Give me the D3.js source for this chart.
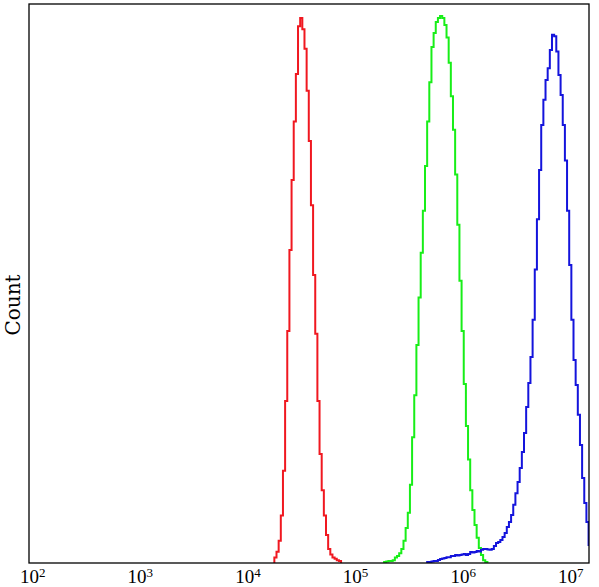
<!DOCTYPE html>
<html>
<head>
<meta charset="utf-8">
<script src="https://cdn.jsdelivr.net/npm/d3@7"></script>
<style>
  body { margin: 0; background: #fff; }
</style>
</head>
<body>
<div id="chart-container"></div>
<script>
// Axe des x : décades affichées sous la forme 10^n
const tickExponents = [2, 3, 4, 5, 6, 7];
const xMaxExponent = 7.204;
const yMaxCount = 200;

// Largeur d'un canal de l'histogramme (en log10)
const binWidth = 0.02;

// Histogramme rouge
const redStart = 4.28;
const redCounts = [2, 4, 8, 17, 33, 58, 83, 112, 137, 158, 175, 192, 195, 191, 184, 169, 151, 128, 103, 82,
    58, 39, 26, 17, 10, 5, 3, 2, 1.5, 1, 0.7];

// Histogramme vert
const greenStart = 5.30;
const greenCounts = [0.4, 0.5, 0.7, 0.7, 1.0, 2, 2.5, 3.5, 5, 8, 12.5, 18, 28, 45, 60, 78, 95, 111, 126, 142,
    158, 172, 184.6, 189.6, 193.6, 195, 195.7, 195, 192.5, 188, 179, 167, 155, 139, 121, 101, 83, 64, 49, 37,
    26, 19, 13.6, 9, 5.4, 2.9, 1, 0.4];

// Histogramme bleu
const blueStart = 5.70;
const blueCounts = [0.4, 0.4, 0.5, 0.7, 0.7, 1.1, 1.4, 1.6, 1.8, 2.1, 2.1, 2.5, 2.5, 2.9, 2.7, 2.9, 3.0, 3.2, 2.9, 3.2,
    3.9, 3.8, 3.9, 4.3, 4.1, 4.7, 5.0, 5.0, 4.8, 4.7, 5.0, 6.1, 7.2, 7.5, 8.2, 9.3, 10.7, 12.9, 14.7, 17.2,
    20.8, 25, 29, 34, 39.7, 46.5, 55.8, 64.4, 73.7, 87, 105, 123, 140.6, 156.7, 165.7, 172.8, 177, 183.5, 189, 188.5,
    183, 174.6, 167.4, 156.7, 144, 126, 106.6, 87, 72.6, 63.7, 53, 42.2, 30.4, 21.5, 14.7, 6.4];

const series = [
    { start: redStart, counts: redCounts, color: "#f01820" },
    { start: greenStart, counts: greenCounts, color: "#18ee18" },
    { start: blueStart, counts: blueCounts, color: "#1414dc" }
];

// Fonction pour dessiner le graphique
function drawChart() {
    const margin = { top: 4, right: 10, bottom: 24, left: 29 };
    const width = 599 - margin.left - margin.right;
    const height = 587 - margin.top - margin.bottom;

    const root = d3.select("#chart-container")
        .append("svg")
        .attr("width", 599)
        .attr("height", 587);

    const svg = root.append("g")
        .attr("transform", "translate(" + margin.left + "," + margin.top + ")");

    // Echelles
    const xScale = d3.scaleLog()
        .domain([Math.pow(10, tickExponents[0]), Math.pow(10, xMaxExponent)])
        .range([0, width]);

    const yScale = d3.scaleLinear()
        .domain([0, yMaxCount])
        .range([height, 0]);

    svg.append("clipPath")
        .attr("id", "plot-clip")
        .append("rect")
        .attr("width", width)
        .attr("height", height);

    // Courbes en escalier
    const line = d3.line()
        .x(d => xScale(Math.pow(10, d[0])))
        .y(d => yScale(d[1]))
        .curve(d3.curveStepAfter);

    series.forEach(s => {
        const pts = [[s.start, 0]];
        s.counts.forEach((c, i) => pts.push([s.start + i * binWidth, c]));
        pts.push([s.start + s.counts.length * binWidth, 0]);

        svg.append("path")
            .datum(pts)
            .attr("clip-path", "url(#plot-clip)")
            .attr("fill", "none")
            .attr("stroke", s.color)
            .attr("stroke-width", 2)
            .attr("d", line);
    });

    // Axe des x (sans graduations)
    const xAxis = svg.append("g")
        .attr("transform", "translate(0," + height + ")")
        .call(d3.axisBottom(xScale)
            .tickValues(tickExponents.map(e => Math.pow(10, e)))
            .tickSize(0)
            .tickFormat(""));
    xAxis.select(".domain").remove();

    xAxis.selectAll(".tick").each(function (d, i) {
        const g = d3.select(this);
        g.append("text")
            .attr("x", 0)
            .attr("y", 20)
            .attr("dy", 0)
            .attr("text-anchor", "middle")
            .attr("fill", "#000")
            .style("font-family", "'Liberation Serif', serif")
            .style("font-size", "19px")
            .text("10");
        g.append("text")
            .attr("x", 9.5)
            .attr("y", 14)
            .attr("dy", 0)
            .attr("text-anchor", "start")
            .attr("fill", "#000")
            .style("font-family", "'Liberation Serif', serif")
            .style("font-size", "13px")
            .text(tickExponents[i]);
    });

    // Cadre
    svg.append("rect")
        .attr("width", width)
        .attr("height", height)
        .attr("fill", "none")
        .attr("stroke", "#000")
        .attr("stroke-width", 1.3);

    // Titre de l'axe des y
    root.append("text")
        .attr("transform", "translate(20,305) rotate(-90)")
        .attr("text-anchor", "middle")
        .style("font-family", "'DejaVu Serif', serif")
        .style("font-size", "20px")
        .text("Count");
}

document.addEventListener("DOMContentLoaded", drawChart);
</script>
</body>
</html>
